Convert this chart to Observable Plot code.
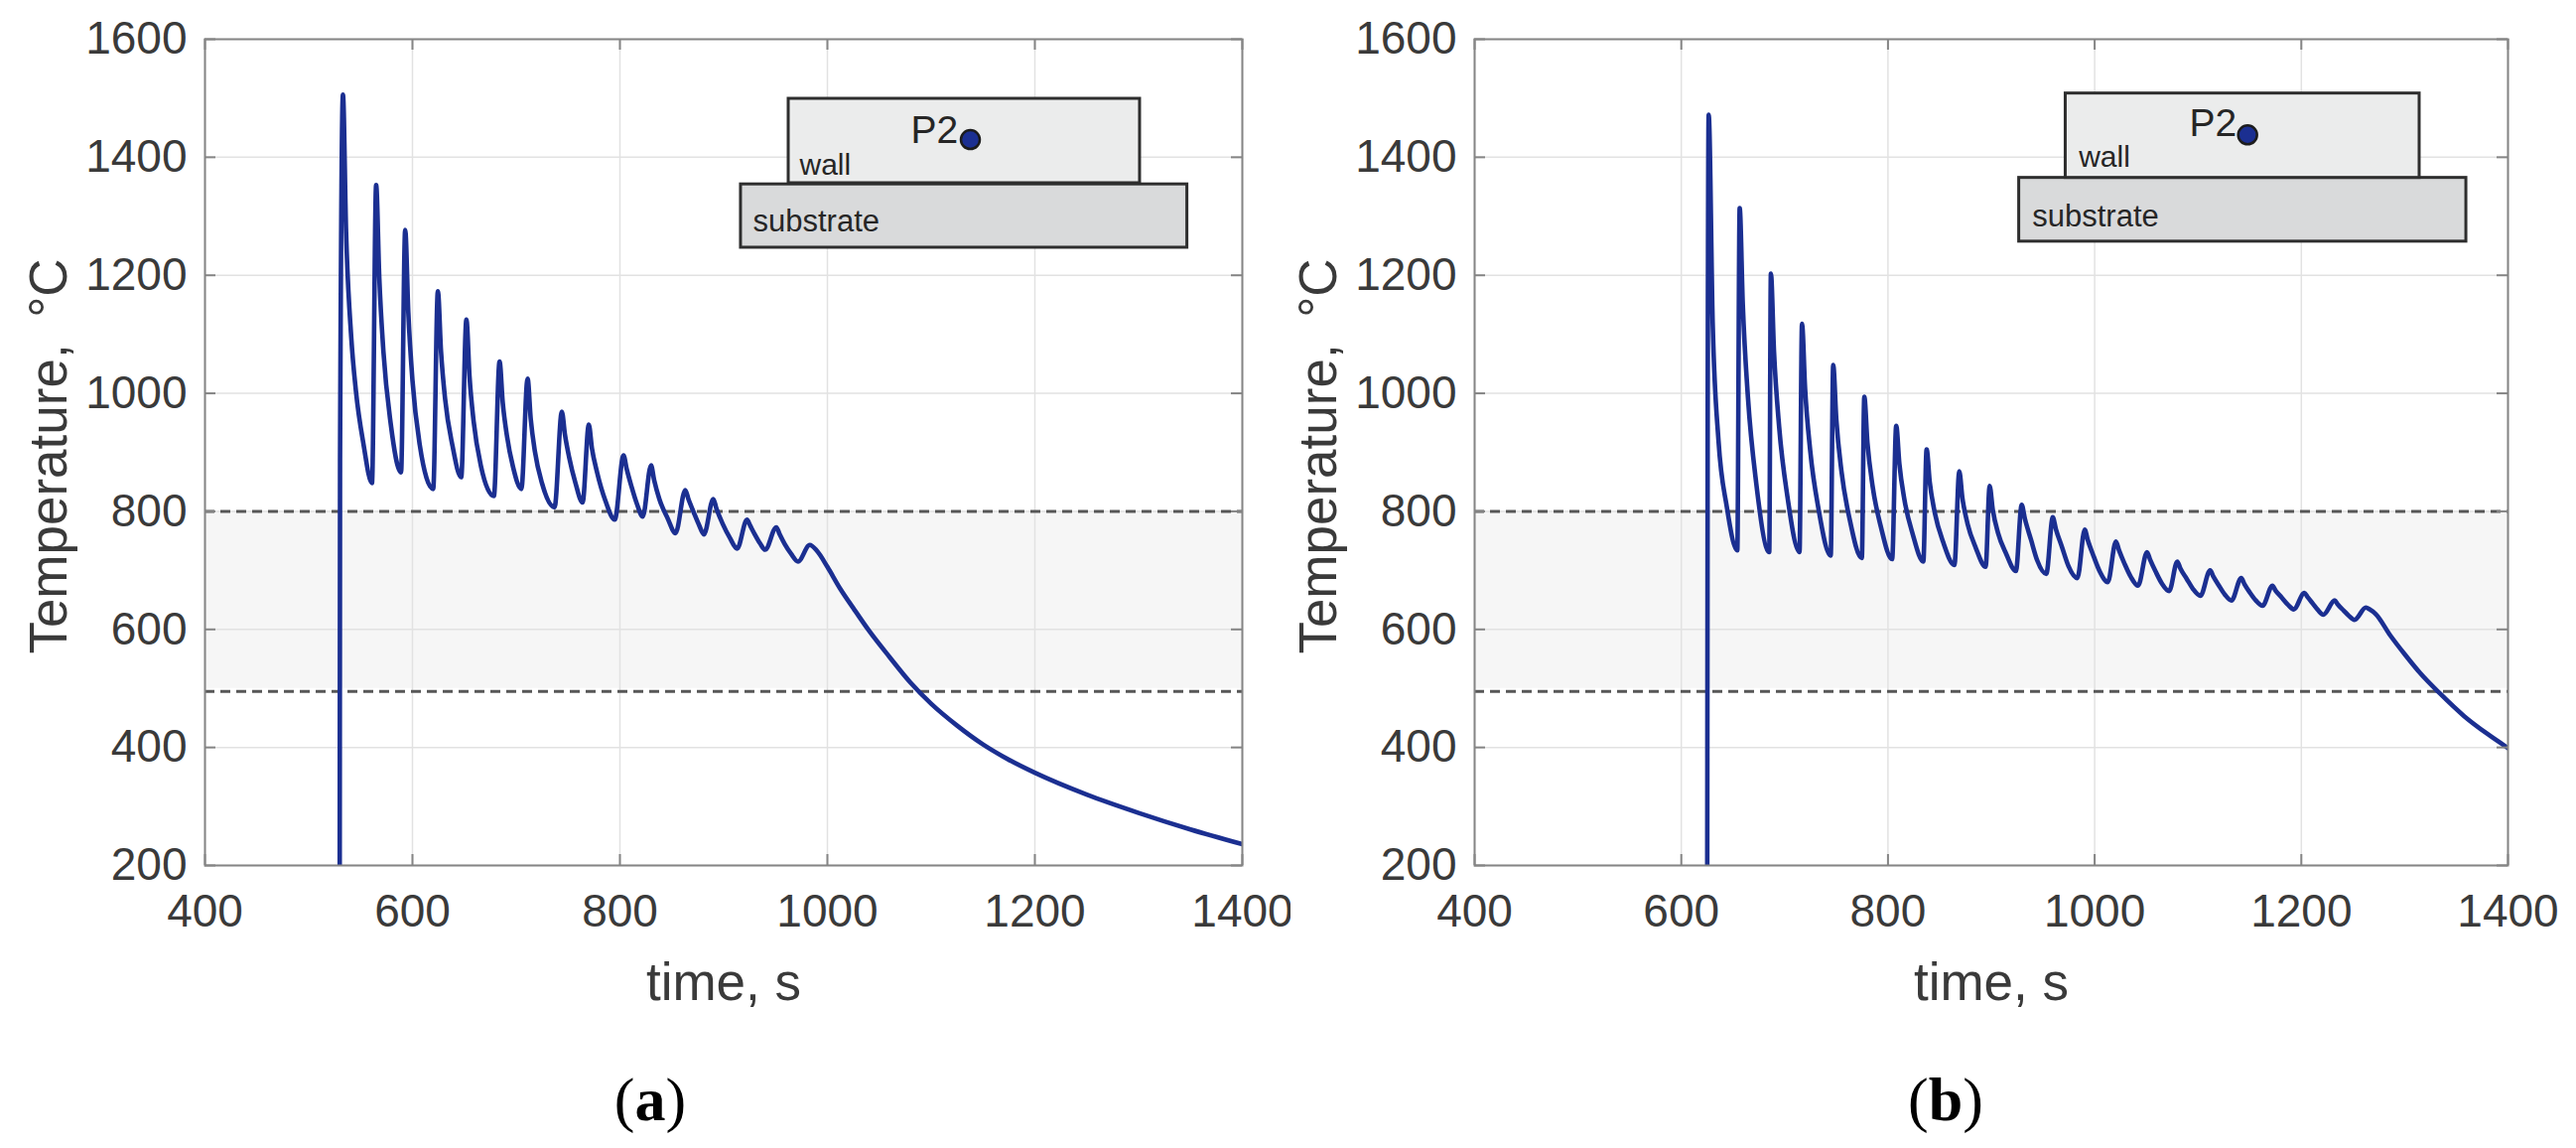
<!DOCTYPE html>
<html><head><meta charset="utf-8">
<script src="https://cdn.jsdelivr.net/npm/d3@7"></script>
<script src="https://cdn.jsdelivr.net/npm/@observablehq/plot@0.6"></script>
<style>
body{margin:0;background:#fff;}
#wrap{position:relative;width:2595px;height:1156px;overflow:hidden;background:#fff;}
.panel{position:absolute;top:0;}
.cap{position:absolute;top:1076px;text-align:center;font-family:"Liberation Serif","Times New Roman",serif;font-size:62px;line-height:62px;color:#000;}
</style></head><body>
<div id="wrap">
  <div id="pa" class="panel" style="left:0px"></div>
  <div id="pb" class="panel" style="left:1300px"></div>
  <div class="cap" style="left:355px;width:600px">(<b>a</b>)</div>
  <div class="cap" style="left:1660px;width:600px">(<b>b</b>)</div>
</div>
<script>
// ---------- data ----------
const xTicks = [400, 600, 800, 1000, 1200, 1400];
const yTicks = [200, 400, 600, 800, 1000, 1200, 1400, 1600];
const xDomain = [400, 1400];
const yDomain = [200, 1600];
const bandRange = [500, 800];
const dashLevels = [800, 495];

const timeA = [529.8,530.2,533,536,541,545.5,552.7,561,565,568,572,579,589,593,596,600,607,620,624.5,627.5,631.5,638.5,647,652,655,659,666,678.5,684,687,691,697,705,711,714,718,725,737,744,747,751,757,764,770,773,778,786,795,803.5,806.5,811,816.5,822,830,833,838,846,853.6,863,866,871,876,881,890,893,899,906,913,922.5,925.5,930,935,940,950.8,954,959,965,971.7,983,990,1000,1012,1025,1040,1060,1080,1100,1125,1150,1175,1200,1250,1300,1350,1400];
const tempA = [20,885,1506,1275,1095,1004,915,848,1353,1197,1071,949,866,1277,1137,1022,913,838,1173,1072,990,912,858,1125,1029,952,877,826,1054,985,929,875,838,1025,957,902,847,807,969,930,892,849,815,947,907,866,818,786,895,872,843,812,791,878,853,821,788,763,836,821,799,778,761,821,805,779,755,737,786,776,761,746,735,773,761,744,728,715,743,733,706,670,636,598,553,510,474,437,405,379,357,320,289,261,236];

const timeB = [625,625.5,626.5,630.4,636,644,654.2,656.5,659.5,664.5,672.5,685.1,686.7,689.7,694.7,702.7,714.4,716.8,719.8,724.8,732.8,744.6,747,750,755,763,774.7,777.1,780.1,785.1,793.1,804,808,811,816,824,834.2,837.4,840.4,845.4,853.4,864.3,869,872,877,885,894.5,898.4,901.4,906.4,914.4,923.8,929.4,932.4,938.4,944.4,953.2,959.5,962.5,968.5,974.5,983.3,990.4,993.4,999,1005,1012.7,1020.6,1023.6,1029,1035,1042,1050.7,1053.7,1059,1065,1072.1,1080,1083,1089,1095,1102.3,1111.8,1114.8,1120,1126,1132.4,1141.9,1144.9,1150,1156,1162.5,1172,1175,1181,1187,1192.7,1203,1206,1211,1216,1221.2,1232.4,1235.4,1241,1246,1251.4,1262.5,1266,1272,1286,1300,1315,1333.8,1357.6,1380,1400];
const tempB = [20,900,1472,1118,920,808,734,1314,1151,993,848,731,1203,1071,943,825,731,1118,1008,902,804,725,1048,956,868,786,721,994,917,843,774,719,945,881,819,761,715,905,850,797,748,709,868,823,779,738,706,843,803,764,728,699,811,788,752,717,694,790,770,739,708,687,769,751,724,698,680,749,734,711,689,674,731,718,698,678,665,715,703,686,669,657,700,690,675,659,649,687,677,663,649,640,674,666,654,642,634,662,655,644,633,625,649,642,632,623,616,637,634,626,590,558,526,492,453,423,399];

// inset schematic (data units of each panel)
const wallA = {x1: 962.7, x2: 1301.4, y1: 1356, y2: 1499};
const substrateA = {x1: 916.7, x2: 1347, y1: 1246.7, y2: 1354};
const pointA = {x: 1137.8, y: 1430};
const labelsA = [
  {x: 1080.4, y: 1425, text: "P2", size: 39},
  {x: 973.2, y: 1371, text: "wall", size: 30},
  {x: 928.2, y: 1273.6, text: "substrate", size: 31}
];
const wallB = {x1: 972, x2: 1314.5, y1: 1365, y2: 1508};
const substrateB = {x1: 927, x2: 1359.7, y1: 1257, y2: 1365};
const pointB = {x: 1148, y: 1438};
const labelsB = [
  {x: 1091.6, y: 1436, text: "P2", size: 39},
  {x: 984.7, y: 1383, text: "wall", size: 30},
  {x: 939.6, y: 1283.6, text: "substrate", size: 31}
];

const yLabel = "Temperature,\u2002°C";
const xLabel = "time, s";

// ---------- drawing ----------
const H = 1040, MT = 39, MB = 169;
const lineColor = "#1b2f91";
const textColor = "#3a3a3a";
const boxColor = "#858585";

function panel(o) {
  const pts = o.time.map((t, i) => ({t, T: o.temp[i]}));
  const fw = o.width - o.ml - o.mr, fh = H - MT - MB;
  const fmt = d => `${d}`;
  return Plot.plot({
    width: o.width, height: H,
    marginLeft: o.ml, marginRight: o.mr, marginTop: MT, marginBottom: MB,
    x: {domain: xDomain},
    y: {domain: yDomain},
    style: {fontFamily: "'Liberation Sans', Arial, sans-serif", fontSize: "46px", color: textColor, background: "white", overflow: "visible"},
    marks: [
      Plot.rect([bandRange], {x1: () => xDomain[0], x2: () => xDomain[1], y1: d => d[0], y2: d => d[1], fill: "#f6f6f6"}),
      Plot.gridX(xTicks, {stroke: "#e2e2e2", strokeOpacity: 1, strokeWidth: 1.5}),
      Plot.gridY(yTicks, {stroke: "#e2e2e2", strokeOpacity: 1, strokeWidth: 1.5}),
      Plot.ruleY(dashLevels, {stroke: "#575757", strokeWidth: 3, strokeDasharray: "10,6"}),
      Plot.line(pts, {x: "t", y: "T", stroke: lineColor, strokeWidth: 4.6, curve: "monotone-x", clip: true}),
      Plot.rect([o.sub], {x1: "x1", x2: "x2", y1: "y1", y2: "y2", fill: "#d9dadb", stroke: "#2e2e2e", strokeWidth: 3}),
      Plot.rect([o.wall], {x1: "x1", x2: "x2", y1: "y1", y2: "y2", fill: "#ebecec", stroke: "#2e2e2e", strokeWidth: 3}),
      Plot.text(o.labels, {x: "x", y: "y", text: "text", fontSize: d => d.size, textAnchor: "start", lineAnchor: "bottom", fill: "#262626"}),
      Plot.dot([o.point], {x: "x", y: "y", r: 9.5, fill: lineColor, stroke: "#1c1c1c", strokeWidth: 2.5}),
      Plot.tickX(xTicks, {x: d => d, insetTop: fh - 11, stroke: boxColor, strokeWidth: 2}),
      Plot.tickX(xTicks, {x: d => d, insetBottom: fh - 11, stroke: boxColor, strokeWidth: 2}),
      Plot.tickY(yTicks, {y: d => d, insetRight: fw - 11, stroke: boxColor, strokeWidth: 2}),
      Plot.tickY(yTicks, {y: d => d, insetLeft: fw - 11, stroke: boxColor, strokeWidth: 2}),
      Plot.frame({stroke: boxColor, strokeWidth: 2}),
      Plot.axisX(xTicks, {tickSize: 0, tickPadding: 29, tickFormat: fmt, label: null, fill: textColor}),
      Plot.axisY(yTicks, {tickSize: 0, tickPadding: 18, tickFormat: fmt, label: null, fill: textColor}),
      Plot.text([yLabel], {text: d => d, frameAnchor: "left", dx: -140, dy: 4, rotate: -90, textAnchor: "middle", lineAnchor: "bottom", fontSize: 53, fill: textColor}),
      Plot.text([xLabel], {text: d => d, frameAnchor: "bottom", dy: 135, textAnchor: "middle", lineAnchor: "bottom", fontSize: 53, fill: textColor})
    ]
  });
}

document.getElementById("pa").append(panel({
  time: timeA, temp: tempA, width: 1300, ml: 206, mr: 49,
  wall: wallA, sub: substrateA, point: pointA, labels: labelsA
}));
document.getElementById("pb").append(panel({
  time: timeB, temp: tempB, width: 1295, ml: 185, mr: 69,
  wall: wallB, sub: substrateB, point: pointB, labels: labelsB
}));
</script>
</body></html>
